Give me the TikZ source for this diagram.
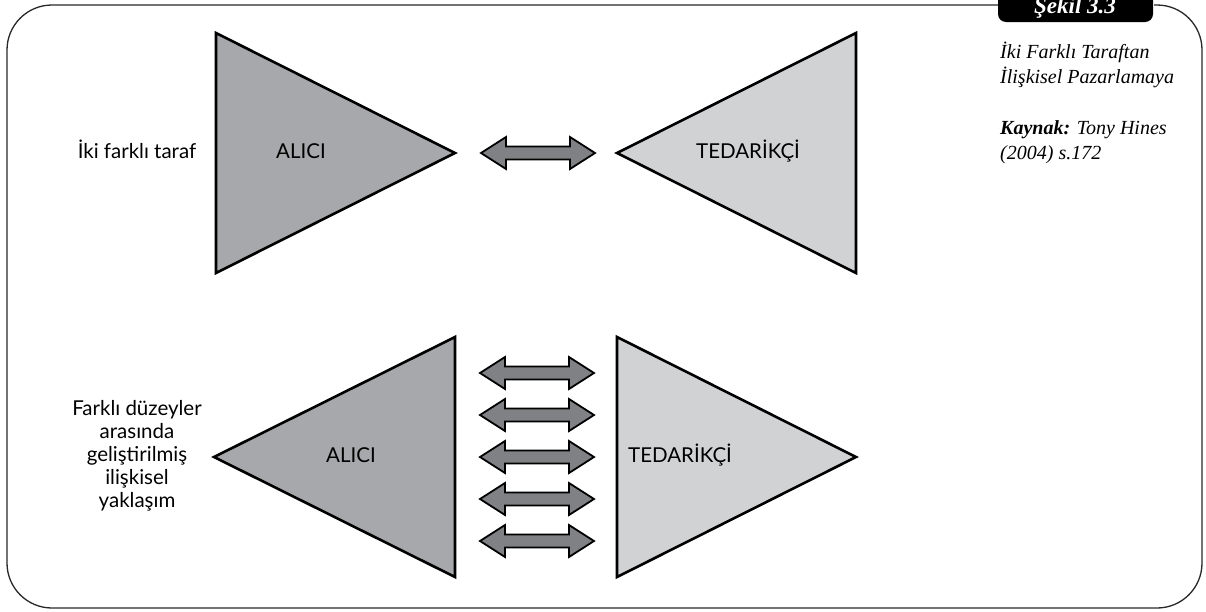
\documentclass[tikz,border=0pt]{standalone}
\usepackage{fontspec}
\setmainfont{Liberation Serif}
\newfontfamily\gillfont{Lato}
\definecolor{darktri}{RGB}{167,168,171}
\definecolor{lighttri}{RGB}{209,210,212}
\definecolor{arrowfill}{RGB}{128,129,132}
\definecolor{framecol}{RGB}{40,40,40}
\tikzset{
  tri/.style={draw=black, line width=2.6pt, line join=miter},
  dark/.style={tri, fill=darktri},
  light/.style={tri, fill=lighttri},
  lbl/.style={font=\gillfont\fontsize{20.5}{23}\selectfont, inner sep=0pt},
  side/.style={font=\itshape\fontsize{20}{24}\selectfont, anchor=west, inner sep=0pt},
  dblarrow/.pic={
    \filldraw[fill=arrowfill, draw=black, line width=1.8pt, line join=miter]
      (-57,0) -- (-32,16) -- (-32,6.5) -- (32,6.5) -- (32,16) -- (57,0)
      -- (32,-16) -- (32,-6.5) -- (-32,-6.5) -- (-32,-16) -- cycle;
  }
}
\begin{document}
\begin{tikzpicture}[x=1pt,y=-1pt]
\useasboundingbox (0,0) rectangle (1206,611);
% frame
\draw[framecol, line width=1.3pt, rounded corners=45pt]
  (998,5) -- (7,5) -- (7,608) -- (1202,608) -- (1202,5) -- (1154,5);
% tab
\fill[black, rounded corners=8pt] (998,-12) rectangle (1153,22);
\node[font=\bfseries\itshape\fontsize{23}{26}\selectfont, text=white, anchor=base, inner sep=0pt] (tab) at (1075,13) {Şekil 3.3};
% side text
\node[side] (t1) at (1000,52) {İki Farklı Taraftan};
\node[side] (t2) at (1000,77) {İlişkisel Pazarlamaya};
\node[side] (t3) at (1000,130) {\textbf{Kaynak:} Tony Hines};
\node[side] (t4) at (1000,155) {(2004) s.172};
% top row
\filldraw[dark] (216,33) -- (455,153) -- (216,273) -- cycle;
\filldraw[light] (856,33) -- (617,153) -- (856,273) -- cycle;
\pic at (538,153) {dblarrow};
\node[lbl, anchor=base] (a1) at (301,158) {ALICI};
\node[lbl, anchor=base] (s1) at (748,158) {TEDARİKÇİ};
\node[lbl, anchor=base] (l1) at (137,158) {İki farklı taraf};
% bottom row
\filldraw[dark] (455,337) -- (214,457) -- (455,577) -- cycle;
\filldraw[light] (617,337) -- (856,457) -- (617,577) -- cycle;
\foreach \yy in {373,415,457,499,541} { \pic at (537,\yy) {dblarrow}; }
\node[lbl, anchor=base] (a2) at (351,462) {ALICI};
\node[lbl, anchor=base] (s2) at (680,462) {TEDARİKÇİ};
\node[lbl, align=center] (l2) at (137,456) {Farklı düzeyler\\arasında\\geliştirilmiş\\ilişkisel\\yaklaşım};
\end{tikzpicture}
\end{document}
